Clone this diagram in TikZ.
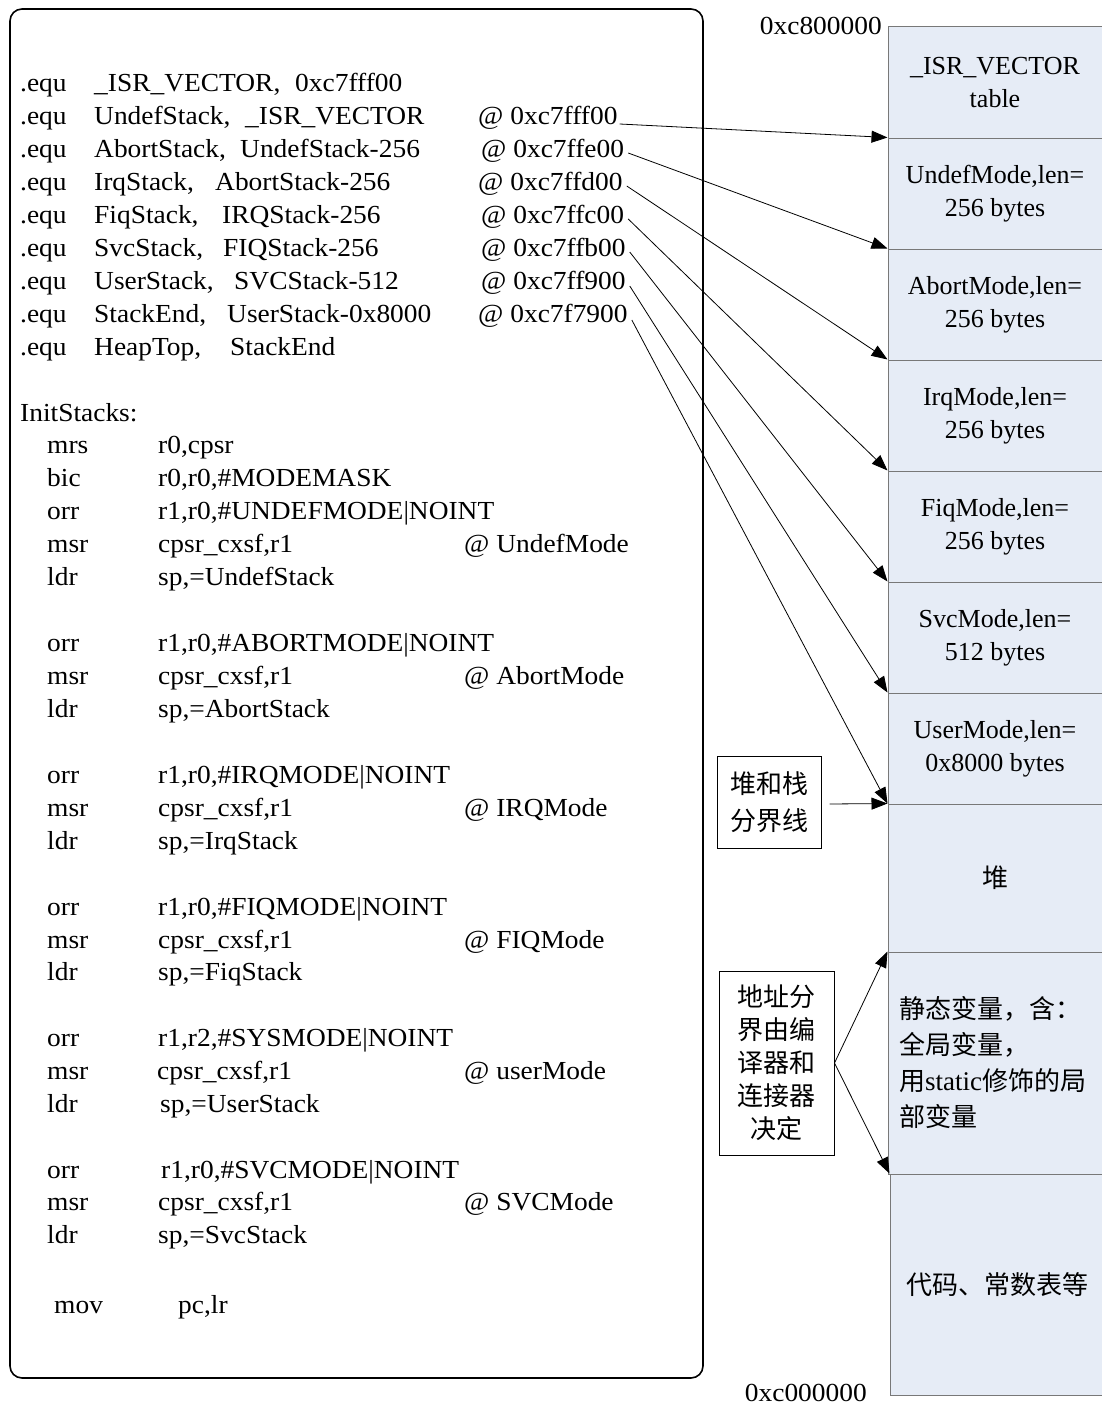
\documentclass[tikz,border=0pt]{standalone}
\usepackage{fontspec}
\setmainfont{Liberation Serif}
\newfontfamily\codefont{Liberation Serif}[FakeStretch=1.055]
\newfontfamily\cjk{Noto Sans CJK SC}
\usetikzlibrary{arrows.meta}
\definecolor{cellfill}{RGB}{230,236,246}
\definecolor{cellline}{RGB}{120,120,120}
\begin{document}
\begin{tikzpicture}[x=1pt,y=-1pt,
  every node/.style={font=\fontsize{26}{33}\selectfont},
  code/.style={anchor=base west, inner sep=0pt, font=\codefont\fontsize{26}{33}\selectfont},
  addr/.style={anchor=east, inner sep=0pt, font=\codefont\fontsize{26}{33}\selectfont},
  cell/.style={draw=cellline, fill=cellfill, line width=1pt, minimum width=214pt,
    inner sep=0pt, align=center},
  note/.style={draw, line width=1pt, inner sep=0pt, align=center},
  link/.style={-{Triangle[length=16pt,width=12pt]}, line width=0.8pt}]
\useasboundingbox (0,0) rectangle (1102,1405);

% assembly listing panel
\node[draw, line width=1.6pt, rounded corners=12pt, minimum width=693pt,
  minimum height=1369pt, inner sep=0pt] (panel) at (356.5,693.5) {};

% .equ definitions
\foreach \i/\y in {1/91,2/124,3/157,4/190,5/223,6/256,7/289,8/322,9/355}
  \node[code] (e\i) at (20,\y) {.equ};
\node[code] (p1) at (94,91)  {\_ISR\_VECTOR,};
\node[code] (q1) at (295,91) {0xc7fff00};
\node[code] (p2) at (94,124) {UndefStack,};
\node[code] (q2) at (245,124) {\_ISR\_VECTOR};
\node[code] (a1) at (478,124) {@ 0xc7fff00};
\node[code] (p3) at (94,157) {AbortStack,};
\node[code] (q3) at (240,157) {UndefStack-256};
\node[code] (a2) at (481,157) {@ 0xc7ffe00};
\node[code] (p4) at (94,190) {IrqStack,};
\node[code] (q4) at (215,190) {AbortStack-256};
\node[code] (a3) at (478,190) {@ 0xc7ffd00};
\node[code] (p5) at (94,223) {FiqStack,};
\node[code] (q5) at (222,223) {IRQStack-256};
\node[code] (a4) at (481,223) {@ 0xc7ffc00};
\node[code] (p6) at (94,256) {SvcStack,};
\node[code] (q6) at (223,256) {FIQStack-256};
\node[code] (a5) at (481,256) {@ 0xc7ffb00};
\node[code] (p7) at (94,289) {UserStack,};
\node[code] (q7) at (234,289) {SVCStack-512};
\node[code] (a6) at (481,289) {@ 0xc7ff900};
\node[code] (p8) at (94,322) {StackEnd,};
\node[code] (q8) at (227,322) {UserStack-0x8000};
\node[code] (a7) at (478,322) {@ 0xc7f7900};
\node[code] (p9) at (94,355) {HeapTop,};
\node[code] (q9) at (230,355) {StackEnd};

% InitStacks routine
\node[code] (lbl) at (20,421) {InitStacks:};
\node[code] (o1) at (47,453) {mrs};  \node[code] (r1) at (158,453) {r0,cpsr};
\node[code] (o2) at (47,486) {bic};  \node[code] (r2) at (158,486) {r0,r0,\#MODEMASK};
\node[code] (o3) at (47,519) {orr};  \node[code] (r3) at (158,519) {r1,r0,\#UNDEFMODE|NOINT};
\node[code] (o4) at (47,552) {msr};  \node[code] (r4) at (158,552) {cpsr\_cxsf,r1};
\node[code] (c4) at (464,552) {@ UndefMode};
\node[code] (o5) at (47,585) {ldr};  \node[code] (r5) at (158,585) {sp,=UndefStack};

\node[code] (o6) at (47,651) {orr};  \node[code] (r6) at (158,651) {r1,r0,\#ABORTMODE|NOINT};
\node[code] (o7) at (47,684) {msr};  \node[code] (r7) at (158,684) {cpsr\_cxsf,r1};
\node[code] (c7) at (464,684) {@ AbortMode};
\node[code] (o8) at (47,717) {ldr};  \node[code] (r8) at (158,717) {sp,=AbortStack};

\node[code] (o9) at (47,783) {orr};  \node[code] (r9) at (158,783) {r1,r0,\#IRQMODE|NOINT};
\node[code] (o10) at (47,816) {msr}; \node[code] (r10) at (158,816) {cpsr\_cxsf,r1};
\node[code] (c10) at (464,816) {@ IRQMode};
\node[code] (o11) at (47,849) {ldr}; \node[code] (r11) at (158,849) {sp,=IrqStack};

\node[code] (o12) at (47,915) {orr}; \node[code] (r12) at (158,915) {r1,r0,\#FIQMODE|NOINT};
\node[code] (o13) at (47,948) {msr}; \node[code] (r13) at (158,948) {cpsr\_cxsf,r1};
\node[code] (c13) at (464,948) {@ FIQMode};
\node[code] (o14) at (47,980) {ldr}; \node[code] (r14) at (158,980) {sp,=FiqStack};

\node[code] (o15) at (47,1046) {orr}; \node[code] (r15) at (158,1046) {r1,r2,\#SYSMODE|NOINT};
\node[code] (o16) at (47,1079) {msr}; \node[code] (r16) at (157,1079) {cpsr\_cxsf,r1};
\node[code] (c16) at (464,1079) {@ userMode};
\node[code] (o17) at (47,1112) {ldr}; \node[code] (r17) at (160,1112) {sp,=UserStack};

\node[code] (o18) at (47,1178) {orr}; \node[code] (r18) at (161,1178) {r1,r0,\#SVCMODE|NOINT};
\node[code] (o19) at (47,1210) {msr}; \node[code] (r19) at (158,1210) {cpsr\_cxsf,r1};
\node[code] (c19) at (464,1210) {@ SVCMode};
\node[code] (o20) at (47,1243) {ldr}; \node[code] (r20) at (158,1243) {sp,=SvcStack};

\node[code] (o21) at (54,1313) {mov}; \node[code] (r21) at (178,1313) {pc,lr};

% memory map column
\node[cell, minimum height=111pt] (m0) at (995,82.5)  {\_ISR\_VECTOR\\table};
\node[cell, minimum height=111pt] (m1) at (995,193.5) {UndefMode,len=\\256 bytes};
\node[cell, minimum height=111pt] (m2) at (995,304.5) {AbortMode,len=\\256 bytes};
\node[cell, minimum height=111pt] (m3) at (995,415.5) {IrqMode,len=\\256 bytes};
\node[cell, minimum height=111pt] (m4) at (995,526.5) {FiqMode,len=\\256 bytes};
\node[cell, minimum height=111pt] (m5) at (995,637.5) {SvcMode,len=\\512 bytes};
\node[cell, minimum height=111pt] (m6) at (995,748.5) {UserMode,len=\\0x8000 bytes};
\node[cell, minimum height=148pt, font=\cjk\fontsize{26}{33}\selectfont] (m7) at (995,878) {堆};
\node[cell, minimum height=222pt] (m8) at (995,1063) {};
\node[cell, minimum height=221pt, font=\cjk\fontsize{26}{33}\selectfont] (m9) at (997,1284.5) {代码、常数表等};
\node[anchor=west, align=left, inner sep=0pt, font=\cjk\fontsize{26}{36}\selectfont]
  (stat) at (899,1063) {静态变量，含：\\全局变量，\\用{\rmfamily\fontsize{27}{36}\selectfont static}修饰的局\\部变量};

% address labels
\node[addr] (hi) at (882,26) {0xc800000};
\node[addr] (lo) at (867,1393) {0xc000000};

% notes
\node[note, minimum width=104pt, minimum height=92pt,
  font=\cjk\fontsize{26}{37}\selectfont] (n1) at (769,802) {堆和栈\\分界线};
\node[note, minimum width=115pt, minimum height=184pt,
  font=\cjk\fontsize{26}{33}\selectfont] (n2) at (776.5,1063) {地址分\\界由编\\译器和\\连接器\\决定};

% stack top pointers
\draw[link] ([shift={(2pt,0pt)}]a1.base east) -- (m1.north west);
\draw[link] ([shift={(4pt,4pt)}]a2.base east) -- (m2.north west);
\draw[link] ([shift={(4pt,4pt)}]a3.base east) -- (m3.north west);
\draw[link] ([shift={(4pt,4pt)}]a4.base east) -- (m4.north west);
\draw[link] ([shift={(4pt,4pt)}]a5.base east) -- (m5.north west);
\draw[link] ([shift={(4pt,3pt)}]a6.base east) -- (m6.north west);
\draw[link] ([shift={(4pt,2pt)}]a7.base east) -- (m7.north west);

% boundary notes
\draw[link] ([shift={(8pt,-2pt)}]n1.east) -- (m7.north west);
\draw[link] (n2.east) -- (m8.north west);
\draw[link] (n2.east) -- (m9.north west);
\end{tikzpicture}
\end{document}
